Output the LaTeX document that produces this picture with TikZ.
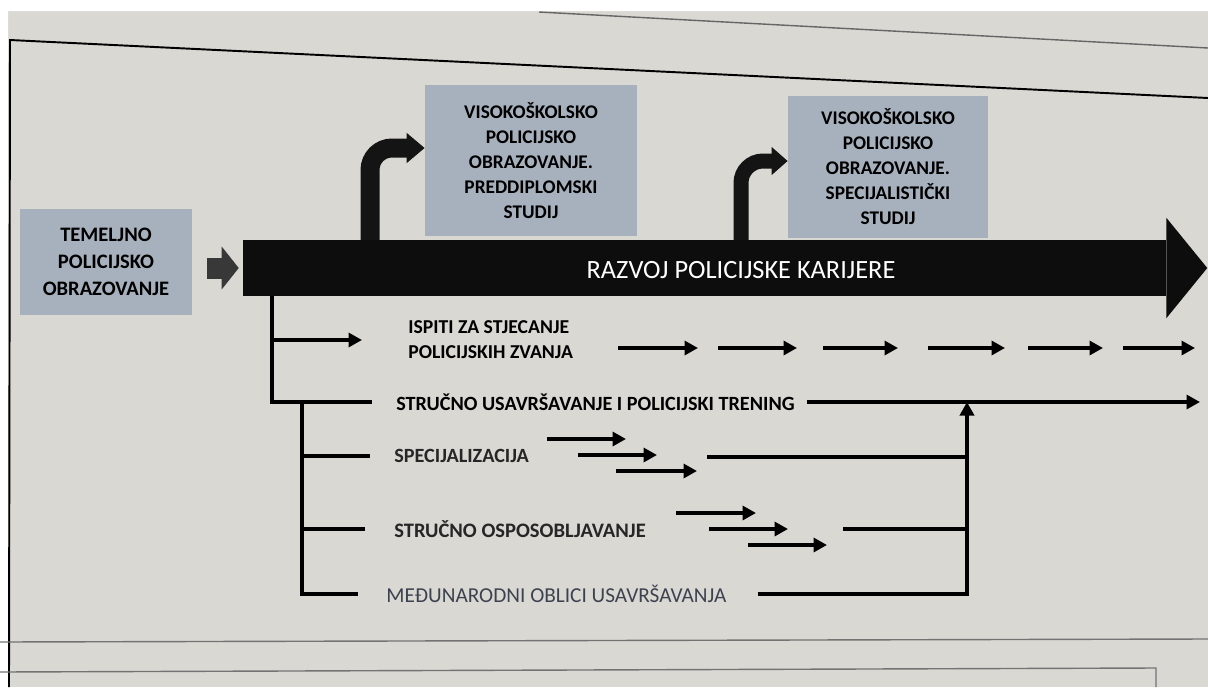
\documentclass[tikz,border=0pt]{standalone}
\usepackage{fontspec}
\setmainfont{Carlito}
\usetikzlibrary{arrows.meta}
\definecolor{plava}{RGB}{167,177,189}
\definecolor{pozadina}{RGB}{218,216,211}
\definecolor{tamna}{RGB}{60,66,80}
\tikzset{
  okvir/.style={fill=plava,align=center,inner sep=0pt,font=\bfseries\fontsize{11}{14.2}\selectfont},
  natpis/.style={anchor=west,inner sep=0pt,align=left,font=\bfseries\fontsize{11.5}{14.2}\selectfont},
  crta/.style={line width=2pt},
  strelica/.style={line width=1.9pt,-{Triangle[length=0.27cm,width=0.28cm]}},
  zavoj/.style={line width=#1,draw=black!92,rounded corners=0.44cm}
}
\begin{document}
\begin{tikzpicture}[x=0.02cm,y=-0.02cm]
\useasboundingbox (0,0) rectangle (1208,687);
\fill[pozadina] (0,0) rectangle (1208,687);
\fill[white] (0,0) rectangle (1208,11) (0,11) rectangle (8,687);
\draw[black!60,line width=0.8pt] (539,12) -- (1208,48);
\draw[line width=1.1pt] (9,687) -- (10,40) -- (1208,98);
\draw[black!55,line width=0.8pt] (0,642) -- (1208,639);
\draw[black!55,line width=0.8pt] (0,672) -- (1156,668) -- (1156,687);

\node[okvir,minimum width=3.44cm,minimum height=2.12cm,font=\bfseries\fontsize{11.7}{15.4}\selectfont] (osnovno) at (106,262) {TEMELJNO\\POLICIJSKO\\OBRAZOVANJE};
\node[okvir,minimum width=4.24cm,minimum height=3.02cm] (vpo1) at (531,160.5) {VISOKOŠKOLSKO\\POLICIJSKO\\OBRAZOVANJE.\\PREDDIPLOMSKI\\STUDIJ};
\node[okvir,minimum width=4cm,minimum height=2.84cm] (vpo2) at (888,167) {VISOKOŠKOLSKO\\POLICIJSKO\\OBRAZOVANJE.\\SPECIJALISTIČKI\\STUDIJ};

\coordinate (z1) at (370,250);
\coordinate (z2) at (741,250);
\draw[zavoj=0.38cm,-{Triangle[length=0.36cm,width=0.58cm]}] (z1) |- ([yshift=0.25cm]vpo1.west);
\draw[zavoj=0.3cm,-{Triangle[length=0.32cm,width=0.54cm]}] (z2) |- ([yshift=0.12cm]vpo2.west);

\node[fill=black!95,minimum width=18.46cm,minimum height=1.12cm,inner sep=0pt] (put) at (704.5,268) {};
\fill[black!95] ([yshift=0.44cm]put.north east) -- ([xshift=0.82cm]put.east) -- ([yshift=-0.44cm]put.south east) -- cycle;
\node[text=white,font=\fontsize{15}{18}\selectfont] (karijera) at (741,270) {RAZVOJ POLICIJSKE KARIJERE};
\draw[line width=0.42cm,draw=black!78,-{Triangle[length=0.34cm,width=0.84cm]},shorten <=0.3cm,shorten >=0.08cm] (osnovno.east |- put.west) -- (put.west);

\node[natpis,font=\bfseries\fontsize{11.2}{14.2}\selectfont] (ispiti) at (408,340) {ISPITI ZA STJECANJE\\POLICIJSKIH ZVANJA};
\node[natpis] (usav) at (396,402) {STRUČNO USAVRŠAVANJE I POLICIJSKI TRENING};
\node[natpis,text=black!85] (spec) at (394,456) {SPECIJALIZACIJA};
\node[natpis,text=black!85,font=\bfseries\fontsize{11.7}{14}\selectfont] (osp) at (394,529) {STRUČNO OSPOSOBLJAVANJE};
\node[natpis,text=tamna,font=\fontsize{12.1}{14}\selectfont] (medj) at (386,594) {MEĐUNARODNI OBLICI USAVRŠAVANJA};

\draw[crta] (272,0 |- put.south) |- ([xshift=-0.48cm]usav.west);
\draw[strelica] (272,0 |- ispiti.west) -- ([xshift=-0.92cm]ispiti.west);
\draw[crta] (302,0 |- usav.west) |- ([xshift=-0.56cm]medj.west);
\draw[crta] (302,0 |- spec.west) -- ([xshift=-0.48cm]spec.west);
\draw[crta] (302,0 |- osp.west) -- ([xshift=-0.58cm]osp.west);

\foreach[count=\k] \a/\b in {618/698,718/797,823/898,928/1005,1028/1103,1123/1195}
    \draw[strelica] (\a,348) coordinate (i\k) -- (\b,348) coordinate (j\k);
\foreach[count=\k] \a/\b/\y in {547/626/439,578/657/455,616/697/471,676/756/513,709/788/529,748/827/545}
    \draw[strelica] (\a,\y) coordinate (s\k) -- (\b,\y) coordinate (e\k);

\coordinate (spoj) at (967,0 |- usav.east);
\draw[strelica] ([xshift=0.24cm]usav.east) -- (1200,0 |- usav.east);
\draw[crta] (707,457) -- (967,457);
\draw[crta] (843,529) -- (967,529);
\draw[strelica] ([xshift=0.62cm]medj.east) -| (spoj);
\end{tikzpicture}
\end{document}
